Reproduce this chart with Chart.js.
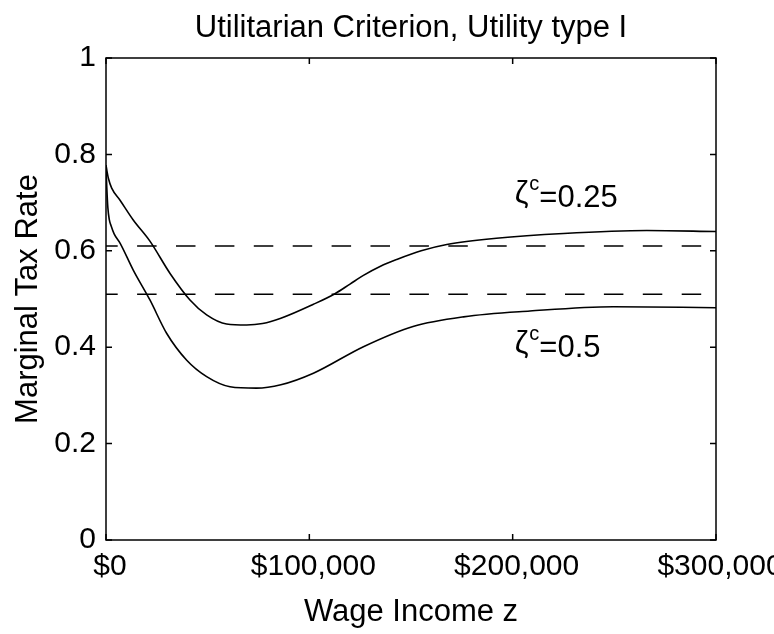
<!DOCTYPE html>
<html>
<head>
<meta charset="utf-8">
<script src="https://cdn.jsdelivr.net/npm/chart.js@4"></script>
<style>
  html, body { margin: 0; padding: 0; background: #ffffff; }
  #wrap { width: 774px; height: 634px; }
</style>
</head>
<body>
<div id="wrap"><canvas id="myChart" width="774" height="634"></canvas></div>
<script>
    // wage income z (dollars) and marginal tax rate
    const zUpper = [0, 500, 1200, 2800, 6900, 13400, 21600, 31500, 41300, 49500, 59300, 69200, 77000, 86000, 102000, 112600, 120000, 126600, 135000, 143000, 155000, 167600, 192000, 225000, 266000, 300000];
    const rateUpper = [0.778, 0.765, 0.750, 0.730, 0.705, 0.664, 0.620, 0.553, 0.498, 0.467, 0.448, 0.446, 0.449, 0.460, 0.489, 0.511, 0.531, 0.549, 0.568, 0.582, 0.600, 0.613, 0.626, 0.636, 0.642, 0.640];

    const zLower = [0, 400, 900, 1600, 2500, 4000, 6900, 13400, 21600, 29800, 39700, 49500, 61000, 74000, 86000, 102000, 126600, 151000, 175800, 208500, 249500, 300000];
    const rateLower = [0.775, 0.730, 0.690, 0.665, 0.652, 0.635, 0.616, 0.560, 0.498, 0.429, 0.373, 0.339, 0.318, 0.315, 0.322, 0.346, 0.401, 0.443, 0.463, 0.475, 0.484, 0.482];

    // flat reference rates (dashed)
    const zRef = [0, 300000];
    const rateRef1 = [0.61, 0.61];
    const rateRef2 = [0.51, 0.51];

    const xTicks = [0, 100000, 200000, 300000];
    const xTickLabels = ["$0", "$100,000", "$200,000", "$300,000"];
    const yTicks = [0, 0.2, 0.4, 0.6, 0.8, 1];
    const yTickLabels = ["0", "0.2", "0.4", "0.6", "0.8", "1"];

    const curveLabels = [
        { name: "ζ", sup: "c", rest: "=0.25", z: 201000, rate: 0.691 },
        { name: "ζ", sup: "c", rest: "=0.5", z: 201000, rate: 0.380 }
    ];

    const FONT = '"Liberation Sans", Arial, Helvetica, sans-serif';

    function toXY(xs, ys) {
        return xs.map(function (x, i) { return { x: x, y: ys[i] }; });
    }

    // box, inward ticks, titles and curve labels
    const matlabFrame = {
        id: "matlabFrame",
        afterDatasetsDraw: function (chart) {
            const ctx = chart.ctx;
            const a = chart.chartArea;
            const xs = chart.scales.x;
            const ys = chart.scales.y;
            const tl = 6;
            ctx.save();
            ctx.strokeStyle = "#000";
            ctx.lineWidth = 1.5;
            ctx.strokeRect(a.left, a.top, a.right - a.left, a.bottom - a.top);
            ctx.beginPath();
            xTicks.forEach(function (v) {
                const px = xs.getPixelForValue(v);
                ctx.moveTo(px, a.bottom); ctx.lineTo(px, a.bottom - tl);
                ctx.moveTo(px, a.top); ctx.lineTo(px, a.top + tl);
            });
            yTicks.forEach(function (v) {
                const py = ys.getPixelForValue(v);
                ctx.moveTo(a.left, py); ctx.lineTo(a.left + tl, py);
                ctx.moveTo(a.right, py); ctx.lineTo(a.right - tl, py);
            });
            ctx.stroke();

            ctx.fillStyle = "#000";
            const cx = (a.left + a.right) / 2;
            ctx.textBaseline = "alphabetic";
            ctx.textAlign = "center";
            ctx.font = "31px " + FONT;
            ctx.fillText("Utilitarian Criterion, Utility type I", cx, 37);
            ctx.fillText("Wage Income z", cx, 621);

            ctx.save();
            ctx.translate(37, (a.top + a.bottom) / 2);
            ctx.rotate(-Math.PI / 2);
            ctx.font = "31px " + FONT;
            ctx.fillText("Marginal Tax Rate", 0, 0);
            ctx.restore();

            ctx.textAlign = "left";
            curveLabels.forEach(function (l) {
                let px = xs.getPixelForValue(l.z);
                const py = ys.getPixelForValue(l.rate);
                ctx.font = "31px " + FONT;
                ctx.fillText(l.name, px, py - 4);
                px += ctx.measureText(l.name).width + 1;
                ctx.font = "20px " + FONT;
                ctx.fillText(l.sup, px, py - 17);
                px += ctx.measureText(l.sup).width;
                ctx.font = "31px " + FONT;
                ctx.fillText(l.rest, px, py);
            });
            ctx.restore();
        }
    };

    const ctx = document.getElementById("myChart");
    new Chart(ctx, {
        type: "line",
        data: {
            datasets: [
                {
                    data: toXY(zUpper, rateUpper),
                    borderColor: "#000",
                    borderWidth: 1.6,
                    pointRadius: 0,
                    cubicInterpolationMode: "monotone",
                },
                {
                    data: toXY(zLower, rateLower),
                    borderColor: "#000",
                    borderWidth: 1.6,
                    pointRadius: 0,
                    cubicInterpolationMode: "monotone",
                },
                {
                    data: toXY(zRef, rateRef1),
                    borderColor: "#000",
                    borderWidth: 1.5,
                    borderDash: [19.5, 19.4],
                    borderDashOffset: 7.8,
                    pointRadius: 0,
                },
                {
                    data: toXY(zRef, rateRef2),
                    borderColor: "#000",
                    borderWidth: 1.5,
                    borderDash: [19.5, 19.4],
                    borderDashOffset: 7.8,
                    pointRadius: 0,
                },
            ],
        },
        options: {
            responsive: false,
            animation: false,
            maintainAspectRatio: false,
            layout: {
                padding: { top: 58, right: 58, left: 0, bottom: 0 },
            },
            plugins: {
                legend: { display: false },
                tooltip: { enabled: false },
                title: { display: false },
            },
            scales: {
                x: {
                    type: "linear",
                    min: 0,
                    max: 300000,
                    afterBuildTicks: function (scale) {
                        scale.ticks = xTicks.map(function (v) { return { value: v }; });
                    },
                    afterFit: function (scale) {
                        scale.height = 94;
                        scale.paddingLeft = 0;
                        scale.paddingRight = 0;
                    },
                    grid: { display: false, drawTicks: false },
                    border: { display: false },
                    ticks: {
                        maxRotation: 0,
                        autoSkip: false,
                        padding: 9,
                        labelOffset: 4,
                        color: "#000",
                        font: { family: FONT, size: 30 },
                        callback: function (v) {
                            const i = xTicks.indexOf(v);
                            return i >= 0 ? xTickLabels[i] : "";
                        },
                    },
                },
                y: {
                    min: 0,
                    max: 1,
                    afterBuildTicks: function (scale) {
                        scale.ticks = yTicks.map(function (v) { return { value: v }; });
                    },
                    afterFit: function (scale) {
                        scale.width = 106;
                        scale.paddingTop = 0;
                        scale.paddingBottom = 0;
                    },
                    grid: { display: false, drawTicks: false },
                    border: { display: false },
                    ticks: {
                        autoSkip: false,
                        padding: 10,
                        color: "#000",
                        font: { family: FONT, size: 30 },
                        callback: function (v) {
                            const i = yTicks.indexOf(v);
                            return i >= 0 ? yTickLabels[i] : "";
                        },
                    },
                },
            },
        },
        plugins: [matlabFrame],
    });
</script>
</body>
</html>
